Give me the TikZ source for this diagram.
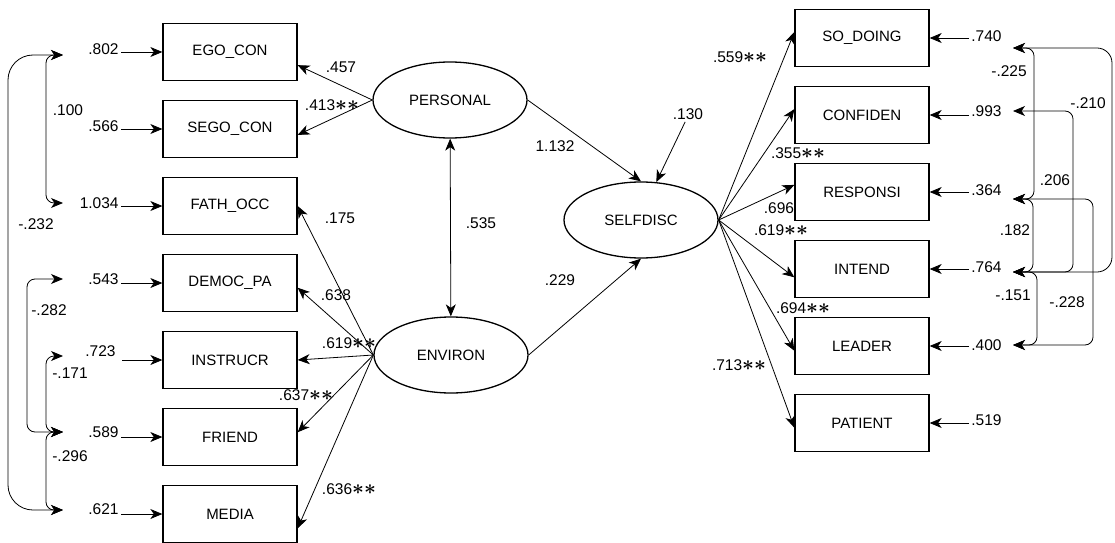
\documentclass[tikz,border=0pt]{standalone}
\usepackage{fontspec}
\setmainfont{Liberation Sans}
\usepackage{tikz}
\usetikzlibrary{shapes.geometric, arrows.meta}

\newcommand{\twostar}{{\fontsize{22}{22}\selectfont\boldmath$\ast\ast$}}

\begin{document}
\begin{tikzpicture}[x=1pt,y=1pt,->,>={Stealth[length=12pt,width=10pt,inset=3.5pt]},
                    node distance=77pt,line width=0.8pt]
\tikzstyle{obs}=[rectangle,draw,line width=1.3pt,minimum width=134pt,minimum height=57pt,inner sep=0pt,font=\fontsize{15}{18}\selectfont]
\tikzstyle{lat}=[ellipse,draw,line width=1.3pt,minimum width=154pt,minimum height=76pt,inner sep=0pt,font=\fontsize{15}{18}\selectfont]
\tikzstyle{num}=[inner sep=2pt,font=\fontsize{15.5}{18}\selectfont]
\tikzstyle{cov}=[<->,rounded corners=8pt]

  \useasboundingbox (0,0) rectangle (1115,542);

  % observed, left
  \node[obs] (ego)    at (230,490)        {EGO\_CON};
  \node[obs] (sego)   [below of=ego]      {SEGO\_CON};
  \node[obs] (fath)   [below of=sego]     {FATH\_OCC};
  \node[obs] (democ)  [below of=fath]     {DEMOC\_PA};
  \node[obs] (instr)  [below of=democ]    {INSTRUCR};
  \node[obs] (friend) [below of=instr]    {FRIEND};
  \node[obs] (media)  [below of=friend]   {MEDIA};

  % latent
  \node[lat] (personal) at (450,442) {PERSONAL};
  \node[lat] (environ)  at (451,187) {ENVIRON};
  \node[lat] (selfdisc) at (641,322) {SELFDISC};

  % observed, right
  \node[obs] (sodo)   at (862,504)        {SO\_DOING};
  \node[obs] (conf)   [below of=sodo]     {CONFIDEN};
  \node[obs] (resp)   [below of=conf]     {RESPONSI};
  \node[obs] (inte)   [below of=resp]     {INTEND};
  \node[obs] (lead)   [below of=inte]     {LEADER};
  \node[obs] (pati)   [below of=lead]     {PATIENT};

  % errors, left
  \node[num,anchor=east] (eego)    at (121,493) {.802};
  \node[num,anchor=east] (esego)   at (121,416) {.566};
  \node[num,anchor=east] (efath)   at (121,339) {1.034};
  \node[num,anchor=east] (edemoc)  at (121,263) {.543};
  \node[num,anchor=east] (einstr)  at (118,191) {.723};
  \node[num,anchor=east] (efriend) at (121,110) {.589};
  \node[num,anchor=east] (emedia)  at (121,33)  {.621};
  \draw (eego.east |- ego)       -- (ego);
  \draw (esego.east |- sego)     -- (sego);
  \draw (efath.east |- fath)     -- (fath);
  \draw (edemoc.east |- democ)   -- (democ);
  \draw ([xshift=4pt]einstr.east |- instr) -- (instr);
  \draw (efriend.east |- friend) -- (friend);
  \draw (emedia.east |- media)   -- (media);

  % errors, right
  \node[num,anchor=west] (esodo) at (969,506) {.740};
  \node[num,anchor=west] (econf) at (969,431) {.993};
  \node[num,anchor=west] (eresp) at (969,352) {.364};
  \node[num,anchor=west] (einte) at (969,275) {.764};
  \node[num,anchor=west] (elead) at (969,197) {.400};
  \node[num,anchor=west] (epati) at (969,122) {.519};
  \draw (esodo.west |- sodo) -- (sodo);
  \draw (econf.west |- conf) -- (conf);
  \draw (eresp.west |- resp) -- (resp);
  \draw (einte.west |- inte) -- (inte);
  \draw (elead.west |- lead) -- (lead);
  \draw (epati.west |- pati) -- (pati);

  % loadings
  \draw (personal.west) -- (ego.-11);
  \draw (personal.west) -- (sego.-5);
  \draw (environ.west)  -- (fath.east);
  \draw (environ.west)  -- (democ.-4);
  \draw (environ.west)  -- (instr.east);
  \draw (environ.west)  -- (friend.4);
  \draw (environ.west)  -- (media.-12);
  \draw (selfdisc.east) -- (sodo.175);
  \draw (selfdisc.east) -- (conf.175);
  \draw (selfdisc.east) -- (resp.174);
  \draw (selfdisc.east) -- (inte.187);
  \draw (selfdisc.east) -- (lead.184);
  \draw (selfdisc.east) -- (pati.184);

  % structural part
  \draw[<->] (personal) -- (environ);
  \draw (personal.east) -- (selfdisc.north);
  \draw (environ.east)  -- (selfdisc.south);
  \node[num] (dself) at (688,428) {.130};
  \draw (dself.250) -- (selfdisc.68);

  % coefficients
  \node[num] (lego)    at (341,475) {.457};
  \node[num] (lsego)   at (332,437) {.413\twostar};
  \node[num] (lfath)   at (340,324) {.175};
  \node[num] (ldemoc)  at (336,247) {.638};
  \node[num] (linstr)  at (349,199) {.619\twostar};
  \node[num] (lfriend) at (306,147) {.637\twostar};
  \node[num] (lmedia)  at (349,53)  {.636\twostar};
  \node[num] (lpe)     at (481,319) {.535};
  \node[num] (lps)     at (555,396) {1.132};
  \node[num] (les)     at (560,262) {.229};
  \node[num] (lsodo)   at (740,485) {.559\twostar};
  \node[num] (lconf)   at (798,389) {.355\twostar};
  \node[num] (lresp)   at (779,334) {.696};
  \node[num] (linte)   at (781,312) {.619\twostar};
  \node[num] (llead)   at (803,234) {.694\twostar};
  \node[num] (lpati)   at (739,177) {.713\twostar};

  % covariances, left
  \coordinate (t1) at (63,487);
  \coordinate (t3) at (63,339);
  \coordinate (t4) at (63,263);
  \coordinate (t5) at (63,186);
  \coordinate (t6) at (63,110);
  \coordinate (t7) at (63,32);
  \draw[cov] (t1) -| ([xshift=-17pt]t3) -- (t3);
  \draw[cov,rounded corners=25pt] (t1) -| ([xshift=-55pt]t7) -- (t7);
  \draw[cov] (t4) -| ([xshift=-36pt]t6) -- (t6);
  \draw[cov] (t5) -| ([xshift=-17pt]t6) -- (t6);
  \draw[cov] (t6) -| ([xshift=-17pt]t7) -- (t7);
  \node[num] (c13) at (68,432)  {.100};
  \node[num] (c17) at (36,318)  {-.232};
  \node[num] (c46) at (49,232)  {-.282};
  \node[num] (c56) at (70,169)  {-.171};
  \node[num] (c67) at (70,86)   {-.296};

  % covariances, right
  \coordinate (s1) at (1013,494);
  \coordinate (s2) at (1013,431);
  \coordinate (s3) at (1013,343);
  \coordinate (s4) at (1013,270);
  \coordinate (s5) at (1013,197);
  \draw[cov] (s1) -| ([xshift=21pt]s3) -- (s3);
  \draw[cov,rounded corners=15pt] (s1) -| ([xshift=99pt]s4) -- (s4);
  \draw[cov] (s2) -| ([xshift=60pt]s4) -- (s4);
  \draw[cov] (s3) -| ([xshift=20pt]s4) -- (s4);
  \draw[cov] (s4) -| ([xshift=24pt]s5) -- (s5);
  \draw[cov] (s3) -| ([xshift=80pt]s5) -- (s5);
  \node[num] (r13) at (1009,471) {-.225};
  \node[num] (r14) at (1088,439) {-.210};
  \node[num] (r24) at (1055,362) {.206};
  \node[num] (r34) at (1015,312) {.182};
  \node[num] (r45) at (1013,247) {-.151};
  \node[num] (r35) at (1067,240) {-.228};
\end{tikzpicture}
\end{document}
